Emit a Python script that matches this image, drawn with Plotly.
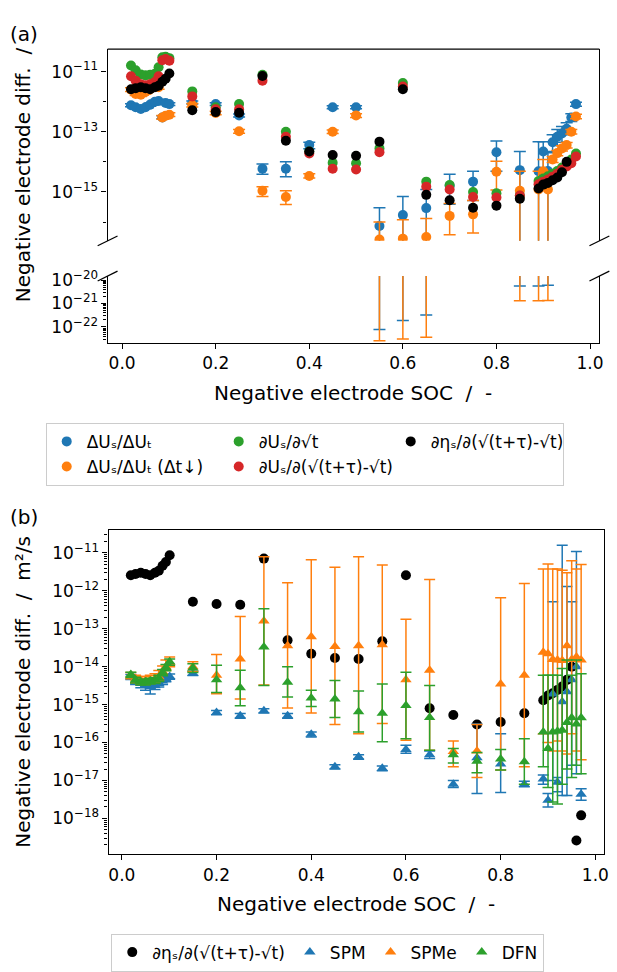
import numpy as np
import plotly.graph_objects as go

# ---------------- data ----------------
soc = [0.019, 0.029, 0.040, 0.050, 0.060, 0.070, 0.078, 0.086, 0.093, 0.101,
       0.15, 0.20, 0.25, 0.30, 0.35, 0.40, 0.45, 0.50, 0.55, 0.60, 0.65, 0.70, 0.75, 0.80, 0.85,
       0.89, 0.90, 0.91, 0.92, 0.93, 0.94, 0.95, 0.96, 0.97]

# panel (a)
dUs_dUt = [7.6e-13, 6.5e-13, 5.7e-13, 6.5e-13, 8e-13, 1.0e-12, 1.05e-12, 3.0e-13, 9e-13, 8.3e-13,
           9.3e-13, 8.3e-13, 3.5e-13, 5.9e-15, 5.9e-15, 3.6e-14, 6.5e-13, 6.5e-13, 7.4e-17, 1.7e-16,
           2.9e-16, 1.6e-15, 2.2e-15, 2.1e-14, 5.3e-15,
           4.9e-15, 2.2e-14, 5e-15, 4.5e-14, 6.8e-14, 8.7e-14, 1.26e-13, 3e-13, 8.3e-13]
dUs_dUt_hi = [8.5e-13, 7.3e-13, 6.4e-13, 7.3e-13, 9e-13, 1.12e-12, 1.18e-12, 3.4e-13, 1.0e-12, 9.3e-13,
              1.05e-12, 9.3e-13, 3.9e-13, 8.5e-15, 1.0e-14, 4.5e-14, 7.3e-13, 7.3e-13, 3.0e-16, 7.0e-16,
              1.2e-15, 3.9e-15, 4.9e-15, 4.9e-14, 2.2e-14,
              4.7e-14, 4.7e-14, 2.2e-14, 8.0e-14, 1.2e-13, 1.5e-13, 2.0e-13, 4.0e-13, 9.5e-13]
dUs_dUt_lo = [6.8e-13, 5.8e-13, 5.1e-13, 5.8e-13, 7.1e-13, 8.9e-13, 9.3e-13, 2.7e-13, 8.0e-13, 7.4e-13,
              8.3e-13, 7.4e-13, 3.1e-13, 3.9e-15, 3.2e-15, 2.7e-14, 5.8e-13, 5.8e-13, 7.8e-23, 1.9e-22,
              3.2e-22, 3.9e-16, 5.2e-16, 4.9e-15, 5.6e-21,
              5.6e-21, 5.0e-15, 6.0e-21, 2.0e-14, 3.5e-14, 4.5e-14, 8.0e-14, 2.2e-13, 7.0e-13]

dUs_dUt_fast = [2.5e-12, 1.8e-12, 1.7e-12, 2.1e-12, 2.6e-12, 5.0e-12, 3.0e-12, 3.0e-13, 3.4e-13, 3.7e-13,
                7.6e-13, 4.2e-13, 1.04e-13, 1.1e-15, 6.8e-16, 3.4e-15, 1.0e-13, 3.5e-13, 2.6e-17, 2.8e-17,
                3.2e-17, 1.6e-16, 1.8e-16, 4.7e-15, 1.1e-15,
                1.2e-15, 4.9e-15, 1.2e-15, 1.2e-14, 1.95e-14, 2.8e-14, 3.6e-14, 1.0e-13, 3.2e-13]
dUs_dUt_fast_hi = [2.9e-12, 2.1e-12, 2.0e-12, 2.4e-12, 3.0e-12, 5.8e-12, 3.5e-12, 3.5e-13, 3.9e-13, 4.3e-13,
                   8.7e-13, 4.8e-13, 1.2e-13, 1.5e-15, 1.1e-15, 4.0e-15, 1.15e-13, 4.0e-13, 1.0e-16, 1.2e-16,
                   1.3e-16, 4.1e-16, 5.2e-16, 1.05e-14, 4.9e-15,
                   4.9e-15, 1.2e-14, 4.9e-15, 1.5e-14, 2.4e-14, 3.4e-14, 4.4e-14, 1.2e-13, 3.8e-13]
dUs_dUt_fast_lo = [2.2e-12, 1.6e-12, 1.5e-12, 1.8e-12, 2.3e-12, 4.4e-12, 2.6e-12, 2.6e-13, 3.0e-13, 3.2e-13,
                   6.6e-13, 3.7e-13, 9.0e-14, 7.0e-16, 3.8e-16, 2.9e-15, 8.7e-14, 3.0e-13, 2.6e-23, 3.1e-23,
                   3.6e-23, 3.8e-17, 4.3e-17, 1.15e-15, 1.3e-21,
                   1.3e-21, 1.2e-15, 1.35e-21, 9.5e-15, 1.6e-14, 2.3e-14, 2.9e-14, 8.5e-14, 2.7e-13]

dUs_dsqrt = [1.6e-11, 1.1e-11, 8e-12, 7.5e-12, 7.8e-12, 8.5e-12, 1.4e-11, 3.0e-11, 3.1e-11, 2.8e-11,
             2.2e-12, 6.5e-13, 8.3e-13, 7.8e-12, 1.0e-13, 2.2e-14, 9.3e-15, 9.0e-15, 2.8e-14, 4.2e-12,
             2.2e-15, 1.7e-15, 1.0e-15, 9.0e-16, 7.5e-16,
             2.3e-15, 2.8e-15, 3.3e-15, 4.0e-15, 5.0e-15, 6.5e-15, 8.0e-15, 1.2e-14, 1.9e-14]
dUs_dtau = [7e-12, 5e-12, 3.8e-12, 3.5e-12, 3.8e-12, 4.5e-12, 7e-12, 2.4e-11, 2.6e-11, 2.3e-11,
            1.5e-12, 5.6e-13, 5.6e-13, 5.0e-12, 6.8e-14, 1.9e-14, 5.9e-15, 5.6e-15, 2.1e-14, 3.2e-12,
            1.5e-15, 1.2e-15, 6.8e-16, 6.5e-16, 7.6e-16,
            1.8e-15, 2.2e-15, 2.6e-15, 3.2e-15, 4.0e-15, 5.5e-15, 7.0e-15, 9.0e-15, 1.5e-14]
deta_dtau = [2.6e-12, 2.8e-12, 3.0e-12, 2.8e-12, 2.6e-12, 3.0e-12, 3.4e-12, 4.6e-12, 5.8e-12, 8.7e-12,
             5.2e-13, 4.5e-13, 4.3e-13, 7.1e-12, 5.0e-14, 2.2e-14, 1.7e-14, 1.6e-14, 4.7e-14, 2.6e-12,
             8.0e-16, 5.3e-16, 3.0e-16, 3.5e-16, 5.9e-16,
             1.3e-15, 1.75e-15, 2.0e-15, 2.45e-15, 3.0e-15, 4.5e-15, 1.0e-14, 2.6e-19, 1.2e-18]

# panel (b)
spm = [5.4e-15, 4.2e-15, 3.6e-15, 3.2e-15, 3.0e-15, 3.2e-15, 3.6e-15, 4.2e-15, 4.8e-15, 5.5e-15,
       6.7e-15, 6.2e-16, 5.1e-16, 6.9e-16, 5.1e-16, 1.65e-16, 2.3e-17, 4.2e-17, 2.1e-17, 6.6e-17,
       4.8e-17, 8.0e-18, 4.0e-17, 2.7e-17, 8.0e-18,
       1.1e-17, 3.0e-18, 1.9e-15, 9.0e-18, 1.2e-15, 2.2e-15, 4.5e-15, 1.0e-14, 4.3e-18]
spm_hi = [6.2e-15, 4.9e-15, 4.2e-15, 3.8e-15, 3.5e-15, 3.8e-15, 4.2e-15, 4.9e-15, 5.6e-15, 6.4e-15,
          7.6e-15, 7.0e-16, 5.8e-16, 7.8e-16, 5.8e-16, 1.9e-16, 2.6e-17, 4.8e-17, 2.4e-17, 8.5e-17,
          6.0e-17, 1.0e-17, 3.1e-16, 1.7e-16, 9.5e-18,
          1.4e-17, 4.5e-18, 5.2e-13, 1.2e-17, 1.6e-11, 1.3e-12, 5.2e-13, 1.1e-11, 6.0e-18]
spm_lo = [4.6e-15, 3.4e-15, 2.8e-15, 2.4e-15, 1.9e-15, 2.5e-15, 2.9e-15, 3.4e-15, 4.0e-15, 4.7e-15,
          5.9e-15, 5.4e-16, 4.4e-16, 6.0e-16, 4.4e-16, 1.4e-16, 2.0e-17, 3.6e-17, 1.8e-17, 5.2e-17,
          3.8e-17, 6.5e-18, 4.5e-18, 4.8e-18, 6.8e-18,
          8.0e-18, 2.0e-18, 1.0e-17, 5.0e-18, 4.0e-18, 4.0e-18, 2.5e-17, 1.5e-17, 3.0e-18]

spme = [6.0e-15, 4.8e-15, 4.4e-15, 4.3e-15, 4.5e-15, 4.8e-15, 5.5e-15, 7.5e-15, 1.0e-14, 1.3e-14,
        1.0e-14, 6.0e-15, 1.6e-14, 1.6e-13, 3.6e-14, 6.2e-14, 3.4e-14, 3.6e-14, 3.8e-14, 4.5e-15,
        8.1e-15, 5.8e-17, 6.0e-17, 3.5e-15, 6.0e-15,
        2.4e-14, 2.2e-14, 1.55e-14, 1.5e-14, 1.45e-14, 3.6e-14, 1.55e-14, 1.8e-14, 1.5e-14]
spme_hi = [7.0e-15, 6.0e-15, 5.5e-15, 5.5e-15, 6.0e-15, 6.5e-15, 8.0e-15, 1.05e-14, 1.5e-14, 1.8e-14,
           1.35e-14, 2.1e-14, 2.1e-13, 8.0e-12, 1.65e-12, 6.6e-12, 4.2e-12, 7.9e-12, 4.8e-12, 1.8e-13,
           2.0e-12, 1.1e-16, 3.0e-16, 6.6e-13, 1.56e-12,
           3.8e-12, 5.1e-12, 3.8e-12, 3.8e-12, 3.5e-12, 3.0e-12, 6.2e-12, 3.8e-12, 5.0e-12]
spme_lo = [4.8e-15, 3.8e-15, 3.5e-15, 3.4e-15, 3.6e-15, 3.8e-15, 4.4e-15, 6.0e-15, 8.0e-15, 1.0e-14,
           7.5e-15, 1.95e-15, 1.4e-15, 3.3e-15, 8.1e-16, 6.0e-16, 3.0e-16, 1.7e-16, 3.2e-16, 1.15e-16,
           6.3e-17, 2.3e-17, 1.2e-17, 1.9e-17, 2.3e-17,
           1.7e-16, 1.0e-16, 6.0e-17, 1.1e-16, 6.0e-17, 5.0e-17, 1.7e-16, 6.0e-17, 3.5e-17]

dfn = [6.2e-15, 4.5e-15, 4.0e-15, 4.0e-15, 4.2e-15, 4.4e-15, 5.0e-15, 7.0e-15, 9.5e-15, 1.35e-14,
       9.3e-15, 4.5e-15, 2.8e-15, 3.3e-14, 3.9e-15, 1.5e-15, 1.4e-15, 6.5e-16, 5.9e-16, 9.5e-16,
       4.6e-16, 4.8e-17, 3.2e-17, 3.7e-17, 3.1e-17,
       1.9e-16, 7.0e-17, 1.9e-16, 2.0e-16, 2.1e-16, 3.4e-16, 4.5e-16, 3.1e-16, 4.5e-16]
dfn_hi = [7.2e-15, 5.3e-15, 4.7e-15, 4.7e-15, 5.0e-15, 5.2e-15, 6.0e-15, 8.4e-15, 1.15e-14, 1.6e-14,
          1.2e-14, 1.1e-14, 8.1e-15, 3.4e-13, 1.0e-14, 2.4e-15, 4.3e-15, 2.3e-15, 3.5e-15, 7.1e-15,
          3.2e-15, 7.0e-17, 5.5e-17, 6.6e-17, 1.25e-16,
          6e-15, 6e-15, 6e-15, 6e-15, 9e-15, 1.5e-14, 6e-15, 1.5e-14, 6.5e-15]
dfn_lo = [5.2e-15, 3.7e-15, 3.3e-15, 3.3e-15, 3.5e-15, 3.6e-15, 4.1e-15, 5.8e-15, 7.8e-15, 1.1e-14,
          7.0e-15, 2.1e-15, 9.3e-16, 3.2e-15, 1.6e-15, 8.9e-16, 4.6e-16, 1.9e-16, 1.05e-16, 1.25e-16,
          6.3e-17, 2.9e-17, 1.6e-17, 1.9e-17, 8.0e-18,
          2.3e-17, 6.5e-18, 2.7e-18, 2.4e-18, 8e-18, 2e-17, 1.2e-17, 2.5e-17, 1.5e-17]

x_ticks = [0.0, 0.2, 0.4, 0.6, 0.8, 1.0]
x_tick_text = ["0.0", "0.2", "0.4", "0.6", "0.8", "1.0"]
ya_top_exp = [-11, -13, -15]
ya_bot_exp = [-20, -21, -22]
yb_exp = [-11, -12, -13, -14, -15, -16, -17, -18]

# ---------------- styling ----------------
W, H = 617, 972
def fx(p): return p / W
def fy(p): return 1 - p / H

BLUE, ORANGE, GREEN, RED, BLACK = "#1f77b4", "#ff7f0e", "#2ca02c", "#d62728", "#000000"
FONT = "DejaVu Sans"

def errs(val, up, dn, color, w):
    v = np.asarray(val, float)
    return dict(type="data", symmetric=False,
                array=(np.asarray(up, float) - v).tolist(),
                arrayminus=(v - np.asarray(dn, float)).tolist(),
                color=color, thickness=1.5, width=w)

def sup(e):
    return "10<sup>" + ("\u2212" + str(-e) if e < 0 else str(e)) + "</sup>"

fig = go.Figure()

series_a = [
    ("ΔUₛ/ΔUₜ", dUs_dUt, dUs_dUt_hi, dUs_dUt_lo, BLUE, 1),
    ("ΔUₛ/ΔUₜ (Δt↓)", dUs_dUt_fast, dUs_dUt_fast_hi, dUs_dUt_fast_lo, ORANGE, 4),
    ("∂Uₛ/∂√t", dUs_dsqrt, None, None, GREEN, 2),
    ("∂Uₛ/∂(√(t+τ)-√t)", dUs_dtau, None, None, RED, 5),
    ("∂ηₛ/∂(√(t+τ)-√t)", deta_dtau, None, None, BLACK, 3),
]
for yax in ["y", "y2"]:
    for name, v, up, dn, c, rank in series_a:
        ey = errs(v, up, dn, c, 6) if up is not None else dict(visible=False)
        fig.add_trace(go.Scatter(
            x=soc, y=v, mode="markers", name=name,
            marker=dict(color=c, size=10, line=dict(width=0)),
            error_y=ey, legend="legend", legendrank=rank,
            showlegend=(yax == "y"), xaxis="x", yaxis=yax))

fig.add_trace(go.Scatter(
    x=soc, y=deta_dtau, mode="markers", name="∂ηₛ/∂(√(t+τ)-√t)",
    marker=dict(color=BLACK, size=10, line=dict(width=0)),
    legend="legend2", xaxis="x2", yaxis="y3"))
for name, v, up, dn, c in [("SPM", spm, spm_hi, spm_lo, BLUE),
                           ("SPMe", spme, spme_hi, spme_lo, ORANGE),
                           ("DFN", dfn, dfn_hi, dfn_lo, GREEN)]:
    fig.add_trace(go.Scatter(
        x=soc, y=v, mode="markers", name=name,
        marker=dict(color=c, size=10, symbol="triangle-up", line=dict(width=0)),
        error_y=errs(v, up, dn, c, 5.5),
        legend="legend2", xaxis="x2", yaxis="y3"))

ax = dict(showline=True, linecolor="black", linewidth=1.3, ticks="outside", ticklen=5,
          tickwidth=1.2, tickcolor="black", showgrid=False, zeroline=False,
          tickfont=dict(family=FONT, size=17, color="black"))

def minor_vals(lo_e, hi_e, lo, hi):
    vals = [m * 10.0 ** e for e in range(lo_e, hi_e) for m in range(2, 10)]
    return [v for v in vals if lo <= np.log10(v) <= hi]

ya_rng = [-16.626, -10.252]
yb_rng = [-22.667, -19.833]
y3_rng = [-18.948, -10.406]

fig.update_layout(
    width=W, height=H, margin=dict(l=0, r=0, t=0, b=0),
    paper_bgcolor="white", plot_bgcolor="white",
    font=dict(family=FONT, color="black"),
    xaxis=dict(domain=[fx(108.3), fx(603.3)], range=[-0.031, 1.020], anchor="y2",
               tickmode="array", tickvals=x_ticks, ticktext=x_tick_text, **ax),
    yaxis=dict(domain=[fy(238), fy(42)], type="log", range=ya_rng, anchor="x", mirror=True,
               tickmode="array", tickvals=[10.0 ** e for e in ya_top_exp],
               ticktext=[sup(e) for e in ya_top_exp],
               minor=dict(tickmode="array", tickvals=[1e-12, 1e-14, 1e-16], ticks="outside",
                          ticklen=3, tickwidth=1, tickcolor="black"), **ax),
    yaxis2=dict(domain=[fy(342), fy(274)], type="log", range=yb_rng, anchor="x", mirror=True,
                tickmode="array", tickvals=[10.0 ** e for e in ya_bot_exp],
                ticktext=[sup(e) for e in ya_bot_exp],
                minor=dict(tickmode="array", tickvals=minor_vals(-23, -19, *yb_rng), ticks="outside",
                           ticklen=3, tickwidth=1, tickcolor="black"), **ax),
    xaxis2=dict(domain=[fx(109.3), fx(608.3)], range=[-0.028, 1.019], anchor="y3", mirror=True,
                tickmode="array", tickvals=x_ticks, ticktext=x_tick_text, **ax),
    yaxis3=dict(domain=[fy(865), fy(534)], type="log", range=y3_rng, anchor="x2", mirror=True,
                tickmode="array", tickvals=[10.0 ** e for e in yb_exp],
                ticktext=[sup(e) for e in yb_exp],
                minor=dict(tickmode="array", tickvals=minor_vals(-19, -10, *y3_rng), ticks="outside",
                           ticklen=3, tickwidth=1, tickcolor="black"), **ax),
    legend=dict(x=fx(46), y=fy(424), xanchor="left", yanchor="top", orientation="h",
                entrywidth=127, entrywidthmode="pixels", itemwidth=30, tracegroupgap=0,
                bordercolor="#cccccc", borderwidth=1, bgcolor="white",
                font=dict(family=FONT, size=17, color="black")),
    legend2=dict(x=fx(112), y=fy(946), xanchor="left", yanchor="top", orientation="h",
                 itemwidth=30, tracegroupgap=0, bordercolor="#cccccc", borderwidth=1, bgcolor="white",
                 font=dict(family=FONT, size=17, color="black")),
)

shapes = [dict(type="line", xref="paper", yref="paper", x0=fx(108.3), x1=fx(603.3),
               y0=fy(42), y1=fy(42), line=dict(color="black", width=1.3))]
for xc in [108.3, 603.3]:
    for yc in [238, 274]:
        shapes.append(dict(type="line", xref="paper", yref="paper",
                           x0=fx(xc - 10), x1=fx(xc + 10), y0=fy(yc + 5), y1=fy(yc - 5),
                           line=dict(color="black", width=1.3)))
fig.update_layout(shapes=shapes)

ann = [
    dict(text="(a)", x=fx(24), y=fy(27)),
    dict(text="(b)", x=fx(24), y=fy(520)),
    dict(text="Negative electrode diff.  /", x=fx(23), y=fy(170), textangle=-90),
    dict(text="Negative electrode diff.  /  m²/s", x=fx(23), y=fy(699), textangle=-90),
    dict(text="Negative electrode SOC  /  -", x=fx(355.8), y=fy(393)),
    dict(text="Negative electrode SOC  /  -", x=fx(358.8), y=fy(916)),
]
for a in ann:
    a.update(xref="paper", yref="paper", showarrow=False, xanchor="center", yanchor="middle",
             font=dict(family=FONT, size=20, color="black"))
fig.update_layout(annotations=ann)

fig.write_html("out.html")
